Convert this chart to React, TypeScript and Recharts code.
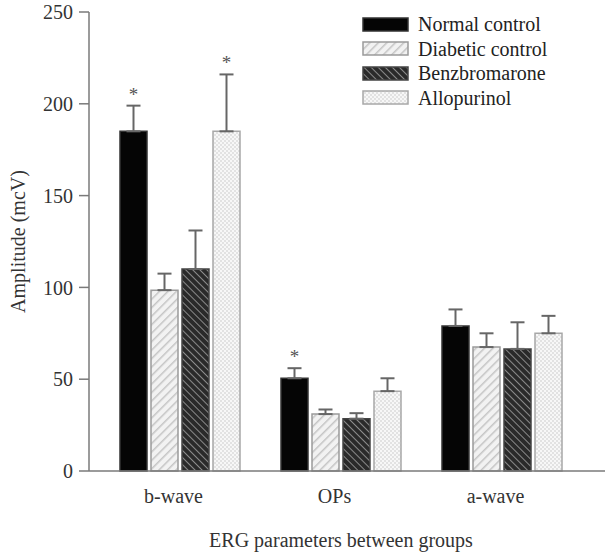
import { BarChart, Bar, XAxis, YAxis, ErrorBar, LabelList } from 'recharts';

const categories = ['b-wave', 'OPs', 'a-wave'];
const groups = ['Normal control', 'Diabetic control', 'Benzbromarone', 'Allopurinol'];

const normal = [185, 50.5, 79];
const normalErr = [14, 5.5, 9];
const diabetic = [98.5, 31, 67.5];
const diabeticErr = [9, 2.5, 7.5];
const benz = [110, 28.5, 66.5];
const benzErr = [21, 3, 14.5];
const allo = [185, 43.5, 75];
const alloErr = [31, 7, 9.5];

// asterisks over the bars that differ from diabetic control
const normalSig = [true, true, false];
const alloSig = [true, false, false];

const yTicks = [0, 50, 100, 150, 200, 250];

const data = categories.map((c, i) => ({
  name: c,
  normal: normal[i],
  normalErr: [0, normalErr[i]],
  diabetic: diabetic[i],
  diabeticErr: [0, diabeticErr[i]],
  benz: benz[i],
  benzErr: [0, benzErr[i]],
  allo: allo[i],
  alloErr: [0, alloErr[i]],
}));

const FONT = '"Liberation Serif", "DejaVu Serif", serif';
const AXIS = '#7a7a7a';
const TEXT = '#333';

const fills = ['#050505', 'url(#diag-light)', 'url(#diag-dark)', 'url(#dots-light)'];
const strokes = ['#333', '#9a9a9a', '#444', '#a8a8a8'];

const starLabel = (errs: number[], sig: boolean[]) => (props: any) => {
  const { x, y, width, height, value, index } = props;
  if (index == null || !sig[index]) return null;
  const ppu = height / value;
  const top = y - errs[index] * ppu;
  return (
    <text x={x + width / 2} y={top - 5} textAnchor="middle" fontSize={19} fontFamily={FONT} fill="#555">
      *
    </text>
  );
};

const Patterns = () => (
  <svg width={0} height={0} style={{ position: 'absolute' }}>
    <defs>
      <pattern id="diag-light" width={6} height={6} patternUnits="userSpaceOnUse" patternTransform="rotate(45)">
        <rect width={6} height={6} fill="#f2f2f2" />
        <line x1={0} y1={0} x2={0} y2={6} stroke="#c4c4c4" strokeWidth={3} />
      </pattern>
      <pattern id="diag-dark" width={5} height={5} patternUnits="userSpaceOnUse" patternTransform="rotate(-45)">
        <rect width={5} height={5} fill="#2a2a2a" />
        <line x1={0} y1={0} x2={0} y2={5} stroke="#8a8a8a" strokeWidth={2} />
      </pattern>
      <pattern id="dots-light" width={4} height={4} patternUnits="userSpaceOnUse">
        <rect width={4} height={4} fill="#f7f7f7" />
        <rect x={0} y={0} width={2} height={2} fill="#e2e2e2" />
        <rect x={2} y={2} width={2} height={2} fill="#e2e2e2" />
      </pattern>
    </defs>
  </svg>
);

const LegendBox = () => (
  <div style={{ position: 'absolute', left: 362, top: 12, fontFamily: FONT, fontSize: 20, color: '#222', lineHeight: 1 }}>
    {groups.map((g, i) => (
      <div key={g} style={{ display: 'flex', alignItems: 'center', height: 24.5 }}>
        <svg width={47} height={15} style={{ marginRight: 9 }}>
          <rect x={1} y={1} width={45} height={13} fill={fills[i]} stroke={strokes[i]} strokeWidth={1.5} />
        </svg>
        <span>{g}</span>
      </div>
    ))}
  </div>
);

export default function App() {
  return (
    <div style={{ position: 'absolute', left: 0, top: 0, width: 610, height: 555, background: '#fff' }}>
      <Patterns />
      <BarChart
        width={610}
        height={555}
        data={data}
        margin={{ top: 12, right: 5, bottom: 0, left: 0 }}
        barGap={4}
        barSize={27}
      >
        <XAxis
          dataKey="name"
          tickLine={false}
          axisLine={{ stroke: AXIS, strokeWidth: 1.5 }}
          padding={{ left: 10, right: 23 }}
          tick={{ fontFamily: FONT, fontSize: 20, fill: TEXT, dx: -6 }}
          tickMargin={12}
          label={{ value: 'ERG parameters between groups', position: 'insideBottom', offset: 8, fontFamily: FONT, fontSize: 20, fill: TEXT, dx: -6 }}
          height={84}
        />
        <YAxis
          domain={[0, 250]}
          ticks={yTicks}
          width={89}
          tickSize={10}
          tickMargin={6}
          axisLine={{ stroke: AXIS, strokeWidth: 1.5 }}
          tickLine={{ stroke: AXIS, strokeWidth: 1.5 }}
          tick={{ fontFamily: FONT, fontSize: 20, fill: TEXT }}
          label={{ value: 'Amplitude (mcV)', angle: -90, position: 'insideLeft', offset: 18, fontFamily: FONT, fontSize: 20, fill: TEXT, style: { textAnchor: 'middle' } }}
        />
        <Bar dataKey="normal" name={groups[0]} fill={fills[0]} stroke={strokes[0]} strokeWidth={1.5} isAnimationActive={false}>
          <ErrorBar dataKey="normalErr" width={7} stroke="#666" strokeWidth={2} />
          <LabelList dataKey="normal" content={starLabel(normalErr, normalSig)} />
        </Bar>
        <Bar dataKey="diabetic" name={groups[1]} fill={fills[1]} stroke={strokes[1]} strokeWidth={1.5} isAnimationActive={false}>
          <ErrorBar dataKey="diabeticErr" width={7} stroke="#666" strokeWidth={2} />
        </Bar>
        <Bar dataKey="benz" name={groups[2]} fill={fills[2]} stroke={strokes[2]} strokeWidth={1.5} isAnimationActive={false}>
          <ErrorBar dataKey="benzErr" width={7} stroke="#666" strokeWidth={2} />
        </Bar>
        <Bar dataKey="allo" name={groups[3]} fill={fills[3]} stroke={strokes[3]} strokeWidth={1.5} isAnimationActive={false}>
          <ErrorBar dataKey="alloErr" width={7} stroke="#666" strokeWidth={2} />
          <LabelList dataKey="allo" content={starLabel(alloErr, alloSig)} />
        </Bar>
      </BarChart>
      <LegendBox />
    </div>
  );
}
